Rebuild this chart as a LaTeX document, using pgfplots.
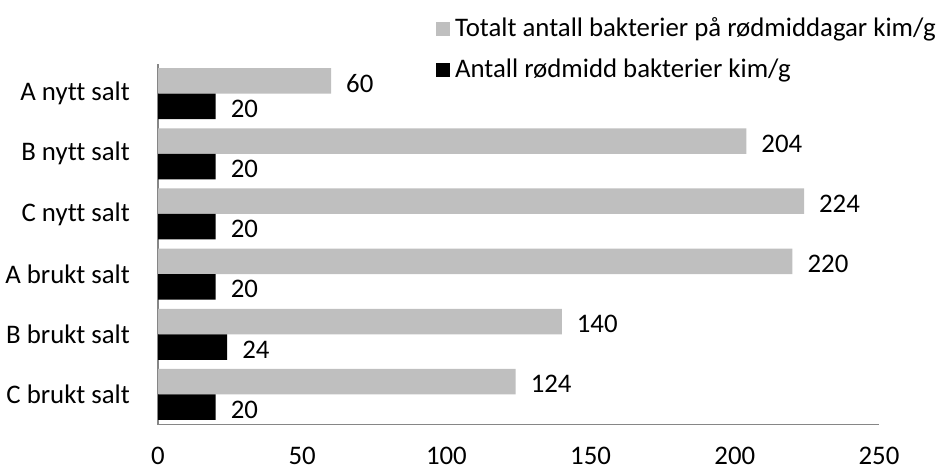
\documentclass[border=0pt]{standalone}
\usepackage{fontspec}
\setmainfont{Carlito}[Ligatures=NoCommon]
\usepackage{pgfplots}
\pgfplotsset{compat=1.18}
\definecolor{bargray}{HTML}{BFBFBF}
\definecolor{axisgray}{HTML}{868686}
\newcommand{\chartfont}{\fontsize{26.8bp}{31bp}\selectfont}
\begin{document}
\chartfont
\begin{tikzpicture}
\useasboundingbox (0,0) rectangle (941bp,470bp);
\begin{axis}[
  at={(158bp,45.5bp)}, anchor=south west,
  scale only axis, width=721bp, height=361bp,
  xbar, bar width=25.5bp,
  xmin=0, xmax=250, ymin=-0.5, ymax=5.5,
  xtick={0,50,100,150,200,250},
  ytick={0,1,2,3,4,5},
  yticklabels={C brukt salt,B brukt salt,A brukt salt,C nytt salt,B nytt salt,A nytt salt},
  axis lines=left,
  axis line style={-, draw=axisgray, line width=1.6bp},
  major tick length=0pt,
  tick style={draw=none},
  /pgf/number format/assume math mode=true,
  ticklabel style={font=\chartfont},
  xticklabel style={yshift=-13bp},
  yticklabel style={xshift=-19bp},
  clip=false,
  nodes near coords,
  nodes near coords style={anchor=west, xshift=6bp, yshift=-2.5bp, font=\chartfont, text=black},
  legend style={at={(rel axis cs:0.3855,1.1345)}, anchor=north west, draw=none, fill=none,
    font=\chartfont, inner sep=0pt, row sep=15bp,
    /tikz/every even column/.append style={column sep=0pt}},
  legend cell align=left,
  legend image code/.code={\fill[#1] (0bp,-7bp) rectangle (14bp,7bp); \path (17bp,0bp);},
]
\addplot[fill=bargray, draw=none, bar shift=12.75bp] coordinates {
  (124,0) (140,1) (220,2) (224,3) (204,4) (60,5)
};
\addlegendentry{Totalt antall bakterier på rødmiddagar kim/g}
\addplot[fill=black, draw=none, bar shift=-12.75bp] coordinates {
  (20,0) (24,1) (20,2) (20,3) (20,4) (20,5)
};
\addlegendentry{Antall rødmidd bakterier kim/g}
\end{axis}
\end{tikzpicture}
\end{document}
